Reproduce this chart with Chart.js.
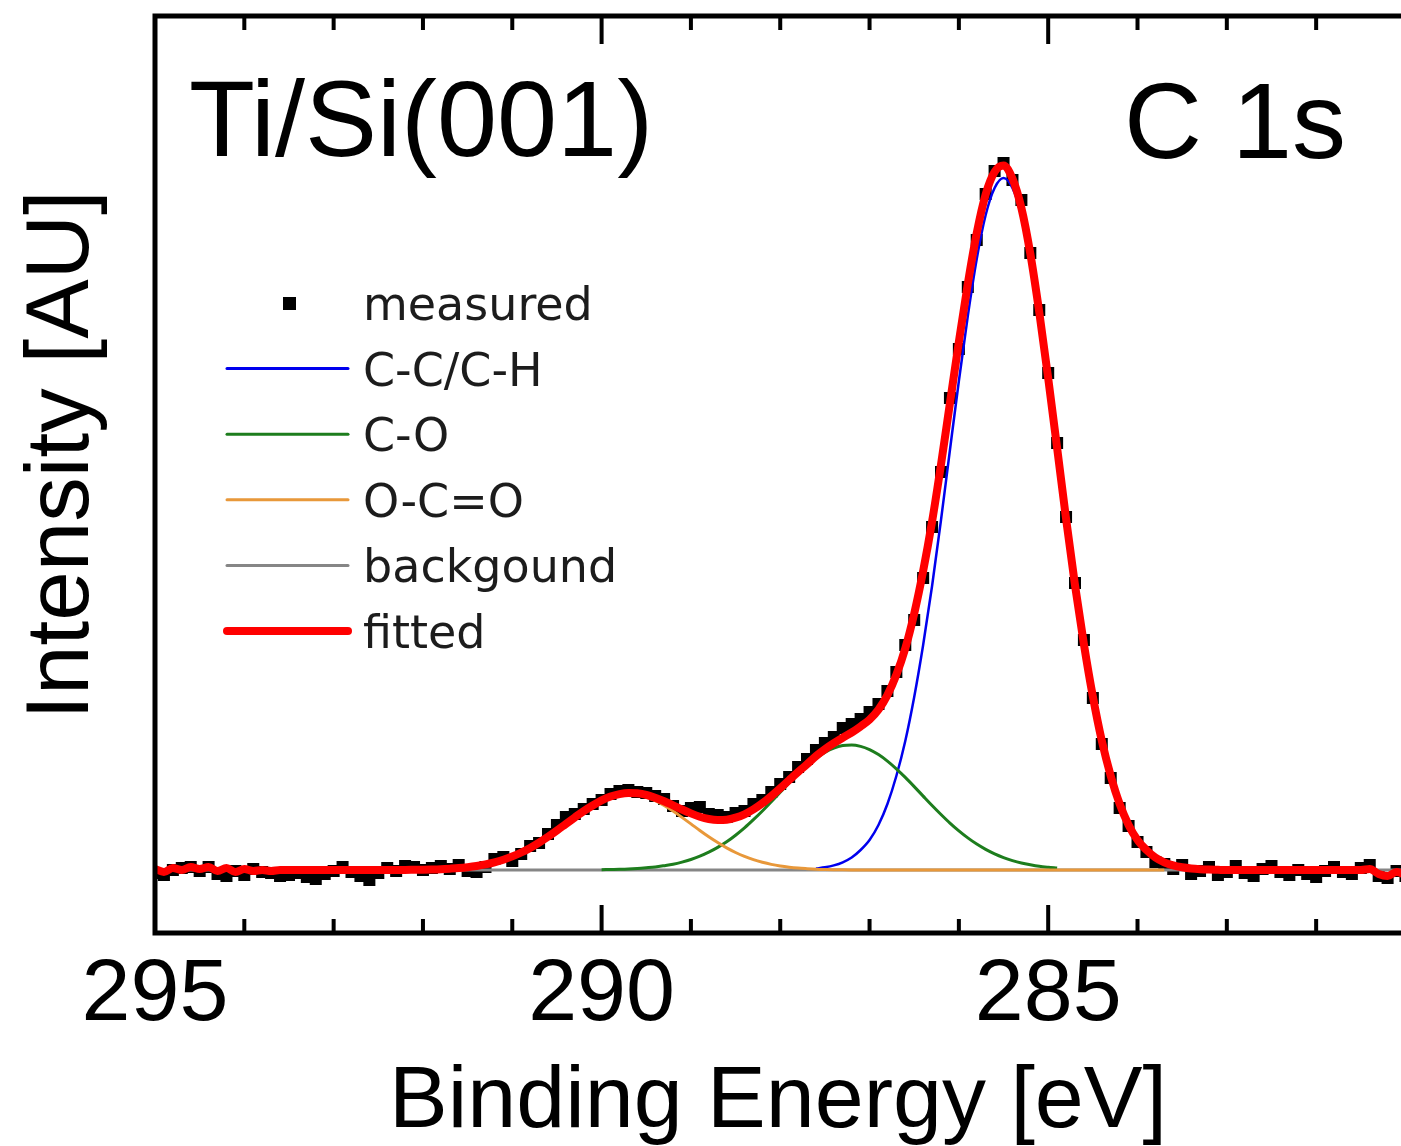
<!DOCTYPE html>
<html>
<head>
<meta charset="utf-8">
<script src="https://cdn.jsdelivr.net/npm/chart.js@4.4.1/dist/chart.umd.min.js"></script>
<style>
  html, body { margin: 0; padding: 0; background: #fff; overflow: hidden; }
  canvas { display: block; }
</style>
</head>
<body>
<canvas id="xps" width="1401" height="1146"></canvas>
<script>
// binding energy grid (eV), 0.1 eV steps
const energy = [
  295.0, 294.9, 294.8, 294.7, 294.6, 294.5, 294.4, 294.3, 294.2, 294.1,
  294.0, 293.9, 293.8, 293.7, 293.6, 293.5, 293.4, 293.3, 293.2, 293.1,
  293.0, 292.9, 292.8, 292.7, 292.6, 292.5, 292.4, 292.3, 292.2, 292.1,
  292.0, 291.9, 291.8, 291.7, 291.6, 291.5, 291.4, 291.3, 291.2, 291.1,
  291.0, 290.9, 290.8, 290.7, 290.6, 290.5, 290.4, 290.3, 290.2, 290.1,
  290.0, 289.9, 289.8, 289.7, 289.6, 289.5, 289.4, 289.3, 289.2, 289.1,
  289.0, 288.9, 288.8, 288.7, 288.6, 288.5, 288.4, 288.3, 288.2, 288.1,
  288.0, 287.9, 287.8, 287.7, 287.6, 287.5, 287.4, 287.3, 287.2, 287.1,
  287.0, 286.9, 286.8, 286.7, 286.6, 286.5, 286.4, 286.3, 286.2, 286.1,
  286.0, 285.9, 285.8, 285.7, 285.6, 285.5, 285.4, 285.3, 285.2, 285.1,
  285.0, 284.9, 284.8, 284.7, 284.6, 284.5, 284.4, 284.3, 284.2, 284.1,
  284.0, 283.9, 283.8, 283.7, 283.6, 283.5, 283.4, 283.3, 283.2, 283.1,
  283.0, 282.9, 282.8, 282.7, 282.6, 282.5, 282.4, 282.3, 282.2, 282.1,
  282.0, 281.9, 281.8, 281.7, 281.6, 281.5, 281.4, 281.3, 281.2, 281.1,
  281.0
];

// intensity above background (AU)
const measured = [
  -3, -5, 0, 2, 3, -1, 3, -4, -6, -1,
  -5, 1, -2, -3, -6, -5, -3, -7, -9, -4,
  -1, 3, -2, -6, -10, -3, 2, -1, 4, 3,
  0, 2, 4, 1, 5, -1, -2, 3, 11, 13,
  9, 16, 24, 27, 36, 45, 53, 56, 61, 66,
  70, 76, 79, 80, 78, 77, 74, 71, 64, 59,
  62, 63, 56, 55, 53, 57, 59, 66, 70, 78,
  86, 93, 103, 111, 120, 127, 133, 142, 146, 151,
  158, 166, 179, 198, 225, 250, 292, 343, 398, 472,
  521, 583, 630, 676, 699, 707, 690, 670, 617, 560,
  497, 427, 353, 287, 230, 172, 126, 92, 62, 44,
  28, 18, 8, 6, 1, 5, -4, -1, 3, -5,
  -2, 4, -3, -6, 1, 4, -2, -5, 0, -4,
  -7, -1, 3, -2, -4, 2, 5, -6, -8, -1,
  -6
];

const fitted = [
  1, -2, 2, 0, 3, 1, 3, -1, 2, -2,
  1, -1, 0, -1, 0, 0, 0, 0, 0, 0,
  0, 0, 0, 0, 0, 0, 0, 0.1, 0.1, 0.2,
  0.3, 0.5, 0.8, 1.3, 1.9, 2.8, 4.0, 5.6, 7.7, 10.3,
  13.6, 17.5, 22.1, 27.4, 33.2, 39.5, 46.1, 52.6, 58.9, 64.5,
  69.6, 73.5, 75.9, 77.0, 76.7, 75.2, 72.3, 68.8, 64.7, 60.5,
  56.6, 53.3, 51.0, 50.0, 50.3, 52.3, 55.7, 60.6, 66.7, 73.9,
  81.7, 89.9, 98.0, 105.7, 113.9, 120.8, 126.8, 132.3, 137.5, 143.6,
  150.4, 160.4, 174.9, 195.2, 221.6, 256.4, 298.9, 348.5, 405.5, 466.9,
  528.1, 586.1, 636.9, 675.6, 698.1, 704.4, 691.4, 662.0, 616.2, 557.7,
  491.7, 421.9, 351.3, 284.9, 225.6, 173.4, 129.3, 94.2, 66.1, 45.1,
  30.0, 20.0, 12.5, 7.7, 4.6, 2.7, 1.5, 0.8, 0.4, 0.2,
  0, 0, 0, 0, 0, 0, 0, 0, 0, 0,
  0, 0, 0, 0, 0, 0, 1, -4, -6, -2,
  -5
];

// C-C/C-H component, 287.6 -> 283.4 eV
const ccchFrom = 287.6;
const ccch = [
  1.5, 2.7, 4.6, 7.7, 12.5, 20, 30, 45, 66, 94,
  129, 173, 225, 284, 350, 420, 489, 554, 611, 655,
  682, 692, 682, 655, 611, 554, 489, 420, 350, 284,
  225, 173, 129, 94, 66, 45, 30, 20, 12.5, 7.7,
  4.6, 2.7, 1.5
];

// C-O component, 290.0 -> 284.9 eV
const coFrom = 290.0;
const co = [
  0.3, 0.5, 0.7, 1.0, 1.5, 2.2, 3.0, 4.3, 5.8, 7.9,
  10.5, 13.8, 17.8, 22.6, 28.2, 34.8, 42.1, 50.3, 59.0, 68.3,
  77.7, 87.1, 96.1, 104.4, 111.6, 117.6, 121.9, 124.4, 125.0, 123.6,
  120.4, 115.4, 108.9, 101.2, 92.6, 83.4, 73.9, 64.5, 55.5, 46.9,
  39.1, 32.1, 25.9, 20.6, 16.1, 12.4, 9.4, 7.0, 5.2, 3.7,
  2.7, 1.9
];

// O-C=O component, 292.0 -> 283.7 eV
const ocoFrom = 292.0;
const oco = [
  0.3, 0.5, 0.8, 1.3, 1.9, 2.8, 4.0, 5.6, 7.7, 10.3,
  13.6, 17.5, 22.1, 27.4, 33.2, 39.5, 46.1, 52.6, 58.9, 64.5,
  69.3, 73.0, 75.2, 76.0, 75.2, 73.0, 69.3, 64.5, 58.9, 52.6,
  46.1, 39.5, 33.2, 27.4, 22.1, 17.5, 13.6, 10.3, 7.7, 5.6,
  4.0, 2.8, 1.9, 1.3, 0.8, 0.5, 0.3, 0.2, 0.1, 0,
  0, 0, 0, 0, 0, 0, 0, 0, 0, 0,
  0, 0, 0, 0, 0, 0, 0, 0, 0, 0,
  0, 0, 0, 0, 0, 0, 0, 0, 0, 0,
  0, 0, 0, 0
];

// flat background line
const bgEnergy = [295.0, 281.0];
const background = [0, 0];

// axis ticks
const majorTicks = [295, 290, 285];
const minorTicks = [294, 293, 292, 291, 289, 288, 287, 286, 284, 283, 282];

const toXY = (xs, ys) => ys.map((v, i) => ({ x: xs[i], y: v }));
const fromIdx = (e0, ys) => {
  const s = energy.indexOf(e0);
  return ys.map((v, i) => ({ x: energy[s + i], y: v }));
};

const lineBase = { pointRadius: 0, fill: false, cubicInterpolationMode: "monotone" };

// frame, ticks, texts and the legend
const decor = {
  id: "decor",
  afterDatasetsDraw(chart) {
    const { ctx, chartArea: a } = chart;
    const x = chart.scales.x;
    ctx.save();

    // frame (right side falls outside the picture)
    ctx.strokeStyle = "#000";
    ctx.lineWidth = 5;
    ctx.beginPath();
    ctx.moveTo(chart.width + 10, a.top);
    ctx.lineTo(a.left, a.top);
    ctx.lineTo(a.left, a.bottom);
    ctx.lineTo(chart.width + 10, a.bottom);
    ctx.stroke();

    // inward ticks top and bottom
    ctx.lineWidth = 4;
    ctx.beginPath();
    const tick = (v, len) => {
      const px = x.getPixelForValue(v);
      ctx.moveTo(px, a.top);
      ctx.lineTo(px, a.top + len);
      ctx.moveTo(px, a.bottom);
      ctx.lineTo(px, a.bottom - len);
    };
    majorTicks.forEach((v) => tick(v, 28));
    minorTicks.forEach((v) => tick(v, 14));
    ctx.stroke();

    // tick labels
    ctx.fillStyle = "#000";
    ctx.font = "88px 'Liberation Sans', Arial, sans-serif";
    ctx.textAlign = "center";
    ctx.textBaseline = "alphabetic";
    majorTicks.forEach((v) => ctx.fillText(String(v), x.getPixelForValue(v), a.bottom + 87));

    // axis titles
    ctx.fillText("Binding Energy [eV]", (a.left + a.right) / 2, a.bottom + 194);
    ctx.save();
    ctx.translate(88, 455);
    ctx.rotate(-Math.PI / 2);
    ctx.font = "89px 'Liberation Sans', Arial, sans-serif";
    ctx.fillText("Intensity [AU]", 0, 0);
    ctx.restore();

    // panel labels
    ctx.font = "108px 'Liberation Sans', Arial, sans-serif";
    ctx.textAlign = "left";
    ctx.fillText("Ti/Si(001)", 189, 156);
    ctx.textAlign = "right";
    ctx.fillText("C 1s", 1346, 158);

    // legend
    ctx.font = "46px 'DejaVu Sans', sans-serif";
    ctx.textAlign = "left";
    chart.data.datasets.forEach((ds, i) => {
      const base = 320 + i * 65.6;
      const mid = base - 17;
      if (ds.showLine === false) {
        ctx.fillStyle = ds.backgroundColor;
        ctx.fillRect(283, mid - 6, 13, 13);
      } else {
        ctx.strokeStyle = ds.borderColor;
        ctx.lineWidth = ds.legendWidth;
        ctx.lineCap = "round";
        ctx.beginPath();
        ctx.moveTo(227, mid);
        ctx.lineTo(348, mid);
        ctx.stroke();
      }
      ctx.fillStyle = "#1c1c1c";
      ctx.fillText(ds.label, 363, base);
    });
    ctx.restore();
  }
};

new Chart(document.getElementById("xps"), {
  type: "line",
  data: {
    datasets: [
      {
        label: "measured",
        data: toXY(energy, measured),
        showLine: false,
        pointStyle: "rect",
        pointRadius: 8.5,
        pointBorderWidth: 0,
        backgroundColor: "#000",
        borderColor: "#000",
        order: 5
      },
      { ...lineBase, label: "C-C/C-H", data: fromIdx(ccchFrom, ccch), borderColor: "#0000ee", borderWidth: 2.5, legendWidth: 3, order: 3 },
      { ...lineBase, label: "C-O", data: fromIdx(coFrom, co), borderColor: "#1d7d1d", borderWidth: 3, legendWidth: 3, order: 2 },
      { ...lineBase, label: "O-C=O", data: fromIdx(ocoFrom, oco), borderColor: "#e8983a", borderWidth: 3, legendWidth: 3, order: 1 },
      { ...lineBase, label: "backgound", data: toXY(bgEnergy, background), borderColor: "#868686", borderWidth: 3, legendWidth: 3, order: 4 },
      { ...lineBase, label: "fitted", data: toXY(energy, fitted), borderColor: "#ff0000", borderWidth: 8, legendWidth: 8, borderJoinStyle: "round", order: 0 }
    ]
  },
  options: {
    responsive: false,
    devicePixelRatio: 1,
    animation: false,
    layout: { autoPadding: false, padding: { left: 155, top: 16, right: 0, bottom: 213 } },
    plugins: { legend: { display: false }, tooltip: { enabled: false } },
    scales: {
      x: { type: "linear", reverse: true, min: 281.05, max: 295, display: false },
      y: { min: -63, max: 854, display: false }
    }
  },
  plugins: [decor]
});
</script>
</body>
</html>
